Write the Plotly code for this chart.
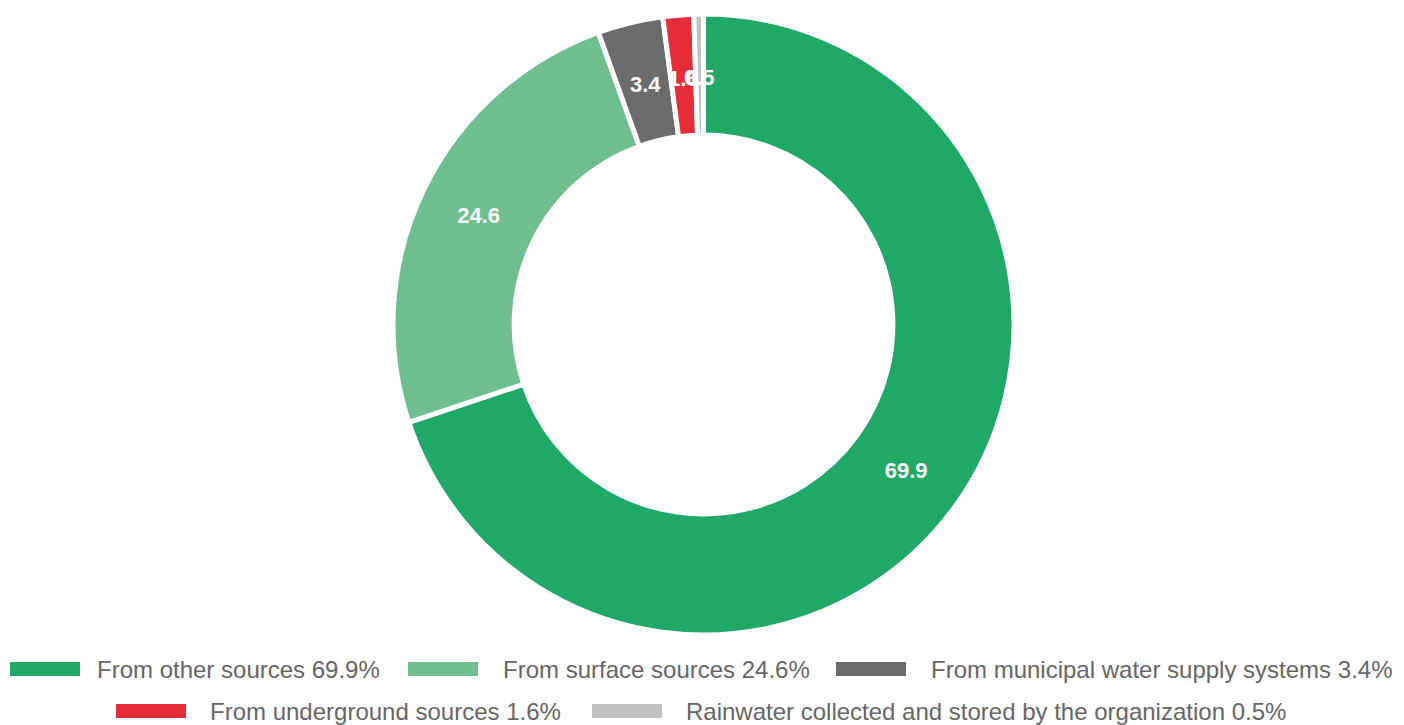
import plotly.graph_objects as go
import math

labels = ["From other sources", "From surface sources", "From municipal water supply systems",
          "From underground sources", "Rainwater collected and stored by the organization"]
values = [69.9, 24.6, 3.4, 1.6, 0.5]
colors = ["#1fa866", "#6fbe8e", "#6b6b6b", "#e52c38", "#c2c2c2"]

# page is rendered with an 8px body margin; work in page pixels and convert
OFF = 8
W, H = 1404 - OFF, 725 - OFF
m_l, m_r = 0, 5
plot_top_page, plot_bot_page = 14, 635
m_t = plot_top_page - OFF
m_b = H - (plot_bot_page - OFF)
plot_w = W - m_l - m_r
plot_h = H - m_t - m_b

def px_x(x):
    return (x - OFF - m_l) / plot_w

def px_y(y):
    return (plot_bot_page - y) / plot_h

# pie geometry in page pixels (for small-slice labels)
cx = OFF + m_l + plot_w / 2
cy = (plot_top_page + plot_bot_page) / 2

hole = 0.61
fig = go.Figure()
fig.add_trace(go.Pie(
    labels=labels, values=values, sort=False, direction="clockwise", rotation=0,
    hole=hole, text=[f"{v}" for v in values], textinfo="text",
    textposition=["inside", "inside", "none", "none", "none"],
    insidetextorientation="horizontal",
    textfont=dict(family="Liberation Sans", size=22, color="white", weight="bold"),
    marker=dict(colors=colors, line=dict(color="white", width=5)),
    showlegend=False, hoverinfo="label+value",
))

shapes, annotations = [], []

# labels of the thin slices, placed at the middle of the ring
total = sum(values)
R_out = 307
r_mid = R_out * (1 + hole) / 2
cum = 0
for i, v in enumerate(values):
    mid = (cum + v / 2) / total
    cum += v
    if i < 2:
        continue
    ang = 2 * math.pi * mid
    x = cx + r_mid * math.sin(ang)
    y = cy - r_mid * math.cos(ang)
    annotations.append(dict(xref="paper", yref="paper", x=px_x(x), y=px_y(y),
                            xanchor="center", yanchor="middle", showarrow=False,
                            text=f"{v}", borderpad=0,
                            font=dict(family="Liberation Sans", size=22, color="white",
                                      weight="bold")))

# custom legend layout (page pixel positions)
rows_y = [669, 669, 669, 711, 711]
rect_x0 = [10, 408, 836, 116, 592]
text_x = [96, 502, 930, 209, 685]
rect_w, rect_h = 70, 14

for i, (lab, val, col) in enumerate(zip(labels, values, colors)):
    y = rows_y[i]
    shapes.append(dict(type="rect", xref="paper", yref="paper",
                       x0=px_x(rect_x0[i]), x1=px_x(rect_x0[i] + rect_w),
                       y0=px_y(y + rect_h / 2), y1=px_y(y - rect_h / 2),
                       fillcolor=col, line=dict(width=0)))
    annotations.append(dict(xref="paper", yref="paper", x=px_x(text_x[i]), y=px_y(y),
                            xanchor="left", yanchor="middle", showarrow=False,
                            text=f"{lab} {val}%", borderpad=0,
                            font=dict(family="Liberation Sans", size=24, color="#666666")))

fig.update_layout(
    width=W, height=H, paper_bgcolor="white", plot_bgcolor="white",
    margin=dict(l=m_l, r=m_r, t=m_t, b=m_b),
    shapes=shapes, annotations=annotations,
    uniformtext=dict(minsize=22, mode="show"),
)
fig.write_html("out.html")
